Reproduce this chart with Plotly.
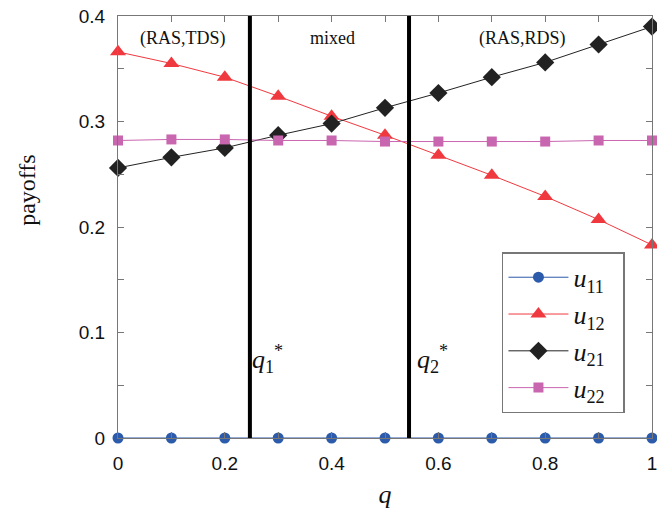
import plotly.graph_objects as go

q = [0, 0.1, 0.2, 0.3, 0.4, 0.5, 0.6, 0.7, 0.8, 0.9, 1.0]
u11 = [0, 0, 0, 0, 0, 0, 0, 0, 0, 0, 0]
u12 = [0.366, 0.355, 0.342, 0.324, 0.305, 0.287, 0.268, 0.249, 0.229, 0.207, 0.183]
u21 = [0.256, 0.266, 0.275, 0.287, 0.298, 0.313, 0.327, 0.342, 0.356, 0.373, 0.390]
u22 = [0.282, 0.283, 0.283, 0.282, 0.282, 0.281, 0.281, 0.281, 0.281, 0.282, 0.282]
q_star = [0.247, 0.545]
regions = ["(RAS,TDS)", "mixed", "(RAS,RDS)"]
region_x = [0.122, 0.401, 0.757]
x_ticks = [0, 0.2, 0.4, 0.6, 0.8, 1.0]
x_ticktext = ["0", "0.2", "0.4", "0.6", "0.8", "1"]
y_ticks = [0, 0.1, 0.2, 0.3, 0.4]
y_ticktext = ["0", "0.1", "0.2", "0.3", "0.4"]

serif = "Liberation Serif"
sans = "Liberation Sans"

fig = go.Figure()
series = [
    ("<i>u</i><sub>11</sub>&nbsp;&nbsp;", u11, "#2B5BAA", "circle", 11),
    ("<i>u</i><sub>12</sub>&nbsp;&nbsp;", u12, "#F0393F", "triangle-up", 14),
    ("<i>u</i><sub>21</sub>&nbsp;&nbsp;", u21, "#222222", "diamond", 14),
    ("<i>u</i><sub>22</sub>&nbsp;&nbsp;", u22, "#C966B0", "square", 10),
]
for name, ys, col, sym, sz in series:
    fig.add_trace(go.Scatter(
        x=q, y=ys, name=name, mode="lines+markers",
        line=dict(color=col, width=1),
        marker=dict(symbol=sym, size=sz, color=col),
        cliponaxis=False,
    ))

for xs in q_star:
    fig.add_shape(type="line", x0=xs, x1=xs, y0=0, y1=1, xref="x", yref="paper",
                  line=dict(color="black", width=4), layer="above")

for t, xx in zip(regions, region_x):
    fig.add_annotation(x=xx, y=0.947, xref="paper", yref="paper", text=t,
                       showarrow=False, font=dict(family=serif, size=18, color="#111"),
                       xanchor="center", yanchor="middle")

fig.add_annotation(x=q_star[0], y=0.14, xref="x", yref="paper",
                   text="<i>q</i><sub>1</sub><sup>*</sup>", showarrow=False,
                   xanchor="left", xshift=0, font=dict(family=serif, size=26, color="#111"))
fig.add_annotation(x=q_star[1], y=0.14, xref="x", yref="paper",
                   text="<i>q</i><sub>2</sub><sup>*</sup>", showarrow=False,
                   xanchor="left", xshift=6, font=dict(family=serif, size=26, color="#111"))

# y-axis title placed as annotation (reference title sits above the axis centre)
fig.add_annotation(x=0, y=0.588, xref="paper", yref="paper", text="payoffs",
                   textangle=-90, showarrow=False, xanchor="center", yanchor="middle",
                   xshift=-91, font=dict(family=serif, size=24, color="#111"))

axis_common = dict(
    showline=True, linecolor="#777777", linewidth=1, mirror="ticks",
    ticks="inside", ticklen=6, tickcolor="#777777", showgrid=False, zeroline=False,
    tickfont=dict(family=sans, size=19, color="#111"), ticklabeloverflow="allow",
    automargin=False,
)
fig.update_xaxes(range=[0, 1], tickvals=x_ticks, ticktext=x_ticktext,
                 ticklabelstandoff=8,
                 minor=dict(dtick=0.1, tick0=0, ticks="inside", ticklen=6, tickcolor="#777777"),
                 title=dict(text="<i>q</i>", font=dict(family=serif, size=26, color="#111"), standoff=12),
                 **axis_common)
fig.update_yaxes(range=[0, 0.4], tickvals=y_ticks, ticktext=y_ticktext,
                 ticklabelstandoff=8,
                 minor=dict(dtick=0.05, tick0=0, ticks="inside", ticklen=6, tickcolor="#777777"),
                 **axis_common)

fig.update_layout(
    width=657, height=517,
    margin=dict(l=118, r=5, t=16, b=79, autoexpand=False),
    plot_bgcolor="white", paper_bgcolor="white",
    legend=dict(x=0.719, y=0.44, xanchor="left", yanchor="top",
                bordercolor="#777777", borderwidth=1.5, bgcolor="white",
                font=dict(family=serif, size=26, color="#111"),
                tracegroupgap=0, itemwidth=60),
)

fig.write_html("out.html", config={"displayModeBar": False},
               post_script="document.body.style.margin='0';document.body.style.overflow='hidden';")
